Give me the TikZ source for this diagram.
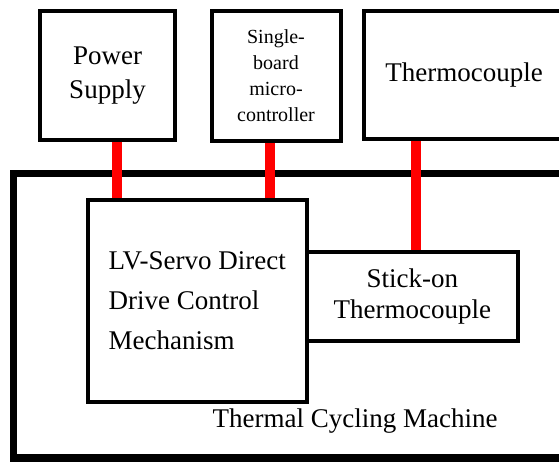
\documentclass[tikz,border=0pt]{standalone}
\usepackage{fontspec}
\setmainfont{Liberation Serif}
\begin{document}
\begin{tikzpicture}[
  x=1pt, y=-1pt,
  box/.style={rectangle, draw, line width=4pt, inner sep=0pt, align=center,
              font=\fontsize{27}{34}\selectfont},
  smallbox/.style={box, font=\fontsize{20}{26}\selectfont},
  mechbox/.style={box, align=left, font=\fontsize{27}{40}\selectfont},
  stickbox/.style={box, font=\fontsize{27}{31}\selectfont},
  machine/.style={rectangle, draw, line width=7.5pt, inner sep=0pt},
  wire/.style={red, line width=10pt}
]
  \useasboundingbox (0,0) rectangle (559,462);
  \clip (0,0) rectangle (559,462);

  \node[machine, minimum width=570pt, minimum height=284.5pt] (tcm) at (298.5, 315.75) {};
  \node[font=\fontsize{27}{34}\selectfont] (tcmlabel) at (355, 421) {Thermal Cycling Machine};

  \node[box, minimum width=135pt, minimum height=129pt] (ps) at (107.5, 75.5) {Power\\Supply};
  \node[smallbox, minimum width=129pt, minimum height=130pt] (sbc) at (276, 76) {Single-\\board\\micro-\\controller};
  \node[box, minimum width=200pt, minimum height=128pt] (tc) at (464, 75) {Thermocouple};

  \node[mechbox, minimum width=219.5pt, minimum height=201.5pt] (lv) at (197.25, 300.75)
    {LV-Servo Direct\\Drive Control\\Mechanism};
  \node[stickbox, minimum width=210.5pt, minimum height=88.5pt] (stick) at (412.25, 296.75)
    {Stick-on\\Thermocouple};

  \draw[wire] ([xshift=9.5pt]ps.south) -- ([xshift=9.5pt]ps.south |- lv.north);
  \draw[wire] ([xshift=-6.5pt]sbc.south) -- ([xshift=-6.5pt]sbc.south |- lv.north);
  \draw[wire] ([xshift=-48pt]tc.south) -- ([xshift=-48pt]tc.south |- stick.north);

\end{tikzpicture}
\end{document}
